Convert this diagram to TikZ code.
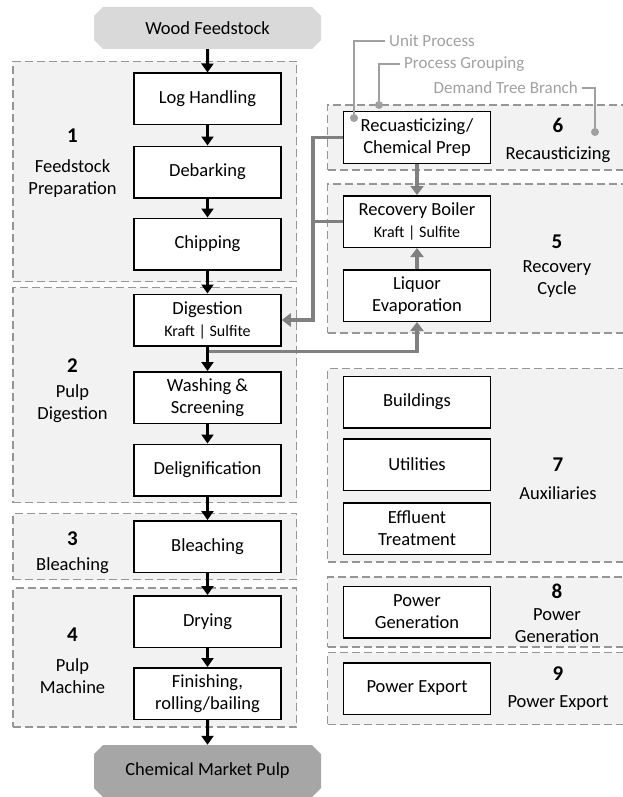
\documentclass[tikz,border=0pt]{standalone}
\usepackage{fontspec}
\setmainfont{Carlito}
\usepackage{xcolor}
\usepackage{tikz}
\usetikzlibrary{arrows.meta,shapes.misc,backgrounds,fit}

\definecolor{groupfill}{RGB}{242,242,242}
\definecolor{groupline}{RGB}{150,150,150}
\definecolor{feedfill}{RGB}{217,217,217}
\definecolor{pulpfill}{RGB}{166,166,166}
\definecolor{recyclegray}{RGB}{128,128,128}
\definecolor{legendgray}{RGB}{160,160,160}

\newcommand{\groupno}[1]{{\fontsize{21}{22}\selectfont\bfseries #1}}

\begin{document}
\begin{tikzpicture}[x=1pt,y=-1pt]
		\tikzstyle{unit}=[draw=black, line width=1.5pt, fill=white, minimum width=147pt, minimum height=51.5pt, inner sep=2pt, align=center, font=\fontsize{18.5}{22}\selectfont]
		\tikzstyle{terminal}=[chamfered rectangle, chamfered rectangle xsep=4.5pt, chamfered rectangle ysep=4.5pt, minimum width=227pt, minimum height=42pt, inner sep=0pt, font=\fontsize{18.5}{22}\selectfont]
		\tikzstyle{group_box}=[draw=groupline, fill=groupfill, line width=1.2pt, dash pattern=on 8pt off 4pt, inner xsep=15pt]
		\tikzstyle{group_text}=[align=center, inner sep=0pt, font=\fontsize{18.5}{22}\selectfont]
		\tikzstyle{flow}=[line width=3pt, -{Triangle[length=9pt,width=12pt]}]
		\tikzstyle{recycle_line}=[recyclegray, line width=3.5pt]
		\tikzstyle{recycle_flow}=[recycle_line, -{Triangle[length=9pt,width=13pt]}]
		\tikzstyle{callout}=[draw=legendgray, line width=1.5pt]
		\tikzstyle{callout_text}=[text=legendgray, inner xsep=4pt, inner ysep=0pt, font=\fontsize{17}{20}\selectfont]
		\tikzstyle{callout_dot}=[circle, fill=legendgray, minimum size=8pt, inner sep=0pt]

		\useasboundingbox (0,0) rectangle (623,797);
		\coordinate (westedge) at (28,0);
		\coordinate (eastedge) at (611,0);
		\coordinate (trunk) at (313,0);

		% pulp line
		\node [unit] (loghandling) at (207.5,99) {Log Handling};
		\node [terminal, fill=feedfill] (feedstock) [node distance=71pt, above of=loghandling] {Wood Feedstock};
		\node [unit] (debarking) [node distance=73pt, below of=loghandling] {Debarking};
		\node [unit] (chipping) [node distance=72pt, below of=debarking] {Chipping};
		\node [unit] (digestion) [node distance=76pt, below of=chipping] {Digestion\\{\fontsize{16}{22}\selectfont Kraft | Sulfite}};
		\node [unit] (washing) [node distance=77.5pt, below of=digestion] {Washing \&\\Screening};
		\node [unit] (delignification) [node distance=72.5pt, below of=washing] {Delignification};
		\node [unit] (bleaching) [node distance=76.5pt, below of=delignification] {Bleaching};
		\node [unit] (drying) [node distance=75pt, below of=bleaching] {Drying};
		\node [unit] (finishing) [node distance=72pt, below of=drying] {Finishing,\\rolling/bailing};
		\node [terminal, fill=pulpfill, minimum height=52pt] (marketpulp) [node distance=77.5pt, below of=finishing] {Chemical Market Pulp};

		% side units
		\node [unit] (recausticizing) at (417,137.5) {Recuasticizing/\\Chemical Prep};
		\node [unit] (recoveryboiler) [node distance=84pt, below of=recausticizing] {Recovery Boiler\\{\fontsize{16}{22}\selectfont Kraft | Sulfite}};
		\node [unit] (liquor) [node distance=74pt, below of=recoveryboiler] {Liquor\\Evaporation};
		\node [unit] (buildings) [node distance=106.5pt, below of=liquor] {Buildings};
		\node [unit] (utilities) [node distance=62.5pt, below of=buildings] {Utilities};
		\node [unit] (effluent) [node distance=64pt, below of=utilities] {Effluent\\Treatment};
		\node [unit] (powergen) [node distance=83.5pt, below of=effluent] {Power\\Generation};
		\node [unit] (powerexport) [node distance=76.5pt, below of=powergen] {Power Export};

		% groupings
		\begin{scope}[on background layer]
			\node (grp1) [group_box, inner ysep=11pt, fit=(loghandling) (chipping) (westedge |- debarking)] {};
			\node (grp2) [group_box, inner ysep=6pt, fit=(digestion) (delignification) (westedge |- washing)] {};
			\node (grp3) [group_box, inner ysep=6.5pt, fit=(bleaching) (westedge |- bleaching)] {};
			\node (grp4) [group_box, inner ysep=7pt, fit=(drying) (finishing) (westedge |- drying)] {};
			\node (grp6) [group_box, inner ysep=6pt, fit=(recausticizing) (eastedge |- recausticizing)] {};
			\node (grp5) [group_box, inner ysep=11pt, fit=(recoveryboiler) (liquor) (eastedge |- liquor)] {};
			\node (grp7) [group_box, inner ysep=7pt, fit=(buildings) (effluent) (eastedge |- utilities)] {};
			\node (grp8) [group_box, inner ysep=8.5pt, fit=(powergen) (eastedge |- powergen)] {};
			\node (grp9) [group_box, inner ysep=9.5pt, fit=(powerexport) (eastedge |- powerexport)] {};
		\end{scope}

		\node [group_text] (label1) at (72.5,163.3) {\groupno{1}\\[8pt]Feedstock\\Preparation};
		\node [group_text] (label2) at (72.5,390.8) {\groupno{2}\\[3pt]Pulp\\Digestion};
		\node [group_text] (label3) at (72.5,552.8) {\groupno{3}\\[3pt]Bleaching};
		\node [group_text] (label4) at (72.5,661) {\groupno{4}\\[8pt]Pulp\\Machine};
		\node [group_text] (label6) at (558,140.8) {\groupno{6}\\[5pt]Recausticizing};
		\node [group_text] (label5) at (557,266.3) {\groupno{5}\\[2pt]Recovery\\Cycle};
		\node [group_text] (label7) at (558,479) {\groupno{7}\\[6pt]Auxiliaries};
		\node [group_text] (label8) at (557,613) {\groupno{8}\\Power\\Generation};
		\node [group_text] (label9) at (558,688.8) {\groupno{9}\\[5pt]Power Export};

		% recovery loop
		\draw [recycle_line] (recoveryboiler.west) -- (trunk |- recoveryboiler.west);
		\draw [recycle_flow] (recausticizing.west) -| (trunk |- digestion.east) -- (digestion.east);
		\draw [recycle_flow] ([yshift=-5pt]digestion.south) -| (liquor.south);
		\draw [recycle_flow] (recausticizing) -- (recoveryboiler);
		\draw [recycle_flow] (liquor) -- (recoveryboiler);

		% main flow
		\draw [flow] (feedstock) -- (loghandling);
		\draw [flow] (loghandling) -- (debarking);
		\draw [flow] (debarking) -- (chipping);
		\draw [flow] (chipping) -- (digestion);
		\draw [flow] (digestion) -- (washing);
		\draw [flow] (washing) -- (delignification);
		\draw [flow] (delignification) -- (bleaching);
		\draw [flow] (bleaching) -- (drying);
		\draw [flow] (drying) -- (finishing);
		\draw [flow] (finishing) -- (marketpulp);

		% legend
		\node [callout_text, anchor=west] (unitlabel) at (385,41) {Unit Process};
		\node [callout_text, anchor=west] (grouplabel) at (400,64) {Process Grouping};
		\node [callout_text, anchor=east] (branchlabel) at (582,88) {Demand Tree Branch};
		\node [callout_dot] (unitdot) at (354,118) {};
		\node [callout_dot] (groupdot) at (379,105) {};
		\node [callout_dot] (branchdot) at (595,132) {};
		\draw [callout] (unitlabel.west) -| (unitdot);
		\draw [callout] (grouplabel.west) -| (groupdot);
		\draw [callout] (branchlabel.east) -| (branchdot);
\end{tikzpicture}
\end{document}
